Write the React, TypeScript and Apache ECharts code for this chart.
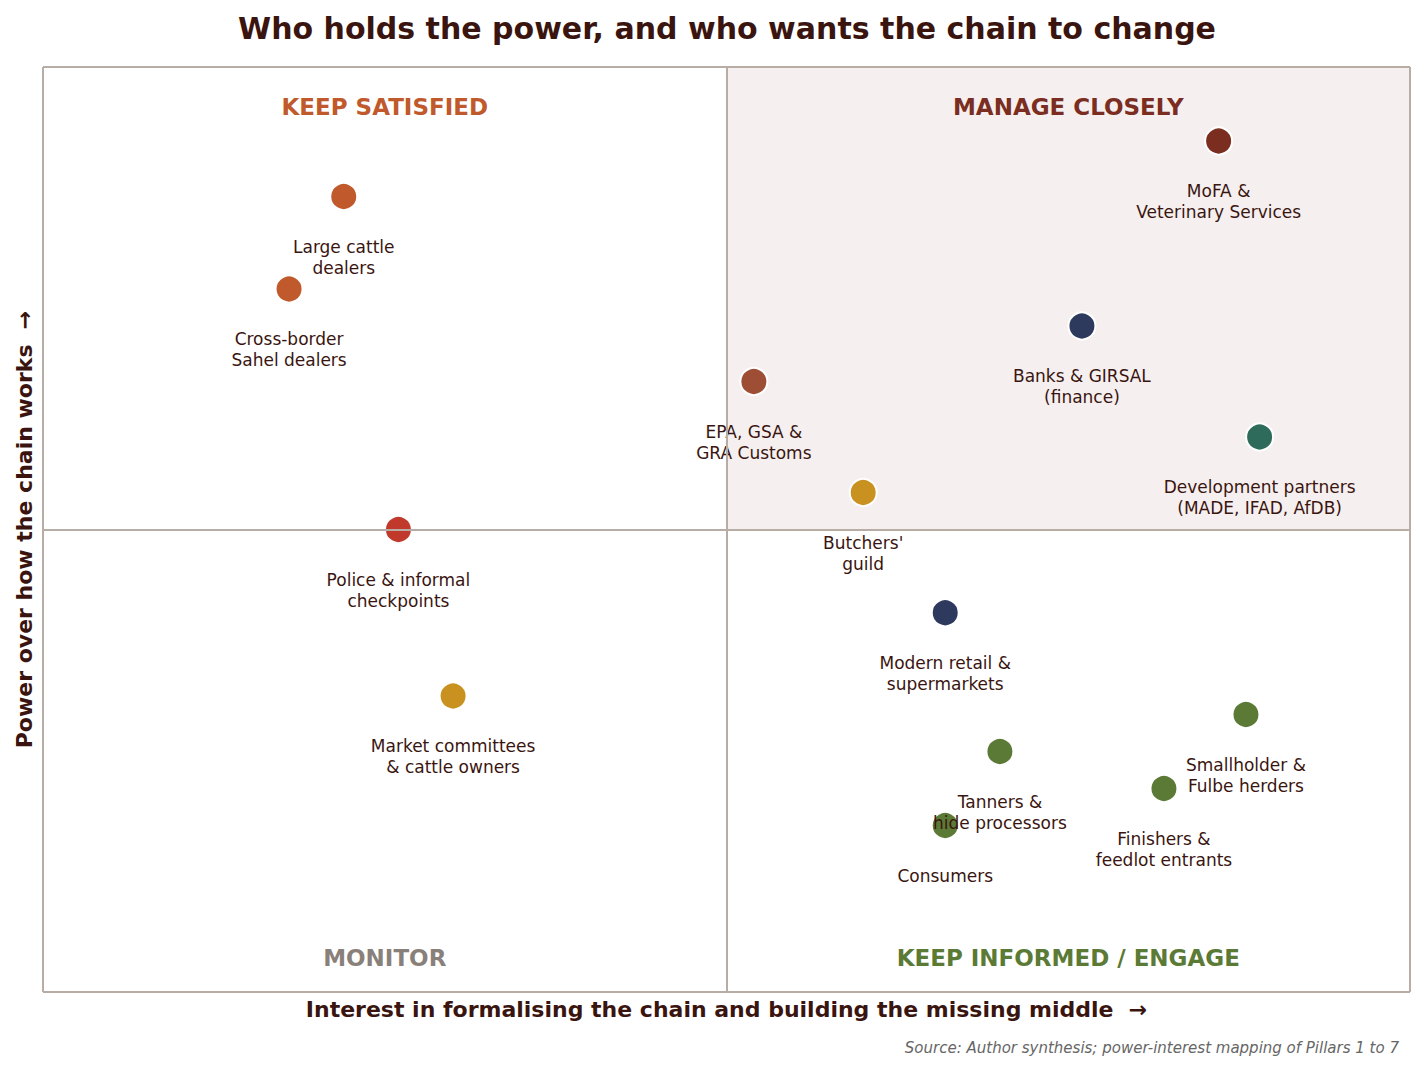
import React, { useEffect, useRef } from "react";
import * as echarts from "echarts";

// Stakeholders: interest (x, 0-10) vs power (y, 0-10)
const stakeholderNames = [
  "Large cattle\ndealers",
  "Cross-border\nSahel dealers",
  "Police & informal\ncheckpoints",
  "Market committees\n& cattle owners",
  "EPA, GSA &\nGRA Customs",
  "Butchers'\nguild",
  "MoFA &\nVeterinary Services",
  "Banks & GIRSAL\n(finance)",
  "Development partners\n(MADE, IFAD, AfDB)",
  "Modern retail &\nsupermarkets",
  "Smallholder &\nFulbe herders",
  "Tanners &\nhide processors",
  "Finishers &\nfeedlot entrants",
  "Consumers",
];
const interestScores = [2.2, 1.8, 2.6, 3.0, 5.2, 6.0, 8.6, 7.6, 8.9, 6.6, 8.8, 7.0, 8.2, 6.6];
const powerScores = [8.6, 7.6, 5.0, 3.2, 6.6, 5.4, 9.2, 7.2, 6.0, 4.1, 3.0, 2.6, 2.2, 1.8];
const stakeholderColors = [
  "#c05a2c", "#c05a2c", "#c0392b", "#c99220", "#9e4e35", "#c99220", "#7b2d20",
  "#2d3a5e", "#2e6b5a", "#2d3a5e", "#5b7a35", "#5b7a35", "#5b7a35", "#5b7a35",
];

// Quadrant headings
const quadrantNames = ["KEEP SATISFIED", "MANAGE CLOSELY", "MONITOR", "KEEP INFORMED / ENGAGE"];
const quadrantX = [2.5, 7.5, 2.5, 7.5];
const quadrantY = [9.57, 9.57, 0.37, 0.37];
const quadrantColors = ["#c0592b", "#7a2d20", "#8a807a", "#5b7a35"];

const FONT = "DejaVu Sans";
const LINE = "#b8ada5";
const INK = "#3a1510";

export default function App() {
  const ref = useRef<HTMLDivElement>(null);

  useEffect(() => {
    if (!ref.current) return;
    const chart = echarts.init(ref.current, undefined, { renderer: "svg" });

    const points = stakeholderNames.map((n, i) => ({
      name: n,
      value: [interestScores[i], powerScores[i]],
      itemStyle: { color: stakeholderColors[i] },
    }));
    const quads = quadrantNames.map((n, i) => ({
      name: n,
      value: [quadrantX[i], quadrantY[i]],
      label: { color: quadrantColors[i] },
    }));

    const frameLine = (v: any) => ({ ...v, lineStyle: { color: LINE, width: 2, type: "solid" } });

    chart.setOption({
      animation: false,
      textStyle: { fontFamily: FONT },
      grid: { left: 43, right: 15, top: 67, bottom: 75, show: false },
      xAxis: {
        type: "value",
        min: 0,
        max: 10,
        axisLine: { show: false },
        axisTick: { show: false },
        axisLabel: { show: false },
        splitLine: { show: false },
        name: "Interest in formalising the chain and building the missing middle  \u2192",
        nameLocation: "middle",
        nameGap: 6,
        nameTextStyle: { fontSize: 22, fontWeight: "bold", color: INK, fontFamily: FONT },
      },
      yAxis: {
        type: "value",
        min: 0,
        max: 10,
        axisLine: { show: false },
        axisTick: { show: false },
        axisLabel: { show: false },
        splitLine: { show: false },
        name: "Power over how the chain works  \u2192",
        nameLocation: "middle",
        nameRotate: 90,
        nameGap: 8,
        nameTextStyle: { fontSize: 22, fontWeight: "bold", color: INK, fontFamily: FONT },
      },
      graphic: [
        {
          type: "text",
          x: 727,
          y: 28,
          style: {
            text: "Who holds the power, and who wants the chain to change",
            textAlign: "center",
            textVerticalAlign: "middle",
            fontFamily: FONT,
            fontSize: 30,
            fontWeight: "bold",
            fill: INK,
          },
        },
        {
          type: "text",
          x: 1399,
          y: 1048,
          style: {
            text: "Source: Author synthesis; power-interest mapping of Pillars 1 to 7",
            textAlign: "right",
            textVerticalAlign: "middle",
            fontFamily: FONT,
            fontSize: 15,
            fontStyle: "italic",
            fill: "#666666",
          },
        },
      ],
      series: [
        {
          type: "scatter",
          z: 1,
          silent: true,
          symbolSize: 1,
          itemStyle: { color: "transparent", opacity: 1 },
          data: quads,
          label: {
            show: true,
            position: "inside",
            formatter: "{b}",
            fontFamily: FONT,
            fontSize: 23,
            fontWeight: "bold",
            opacity: 1,
          },
          markArea: {
            silent: true,
            itemStyle: { color: "#f5f0ef" },
            data: [[{ coord: [5, 5] }, { coord: [10, 10] }]],
          },
          markLine: {
            silent: true,
            symbol: "none",
            label: { show: false },
            data: [
              frameLine({ xAxis: 0 }),
              frameLine({ xAxis: 10 }),
              frameLine({ yAxis: 0 }),
              frameLine({ yAxis: 10 }),
              frameLine({ xAxis: 5 }),
              frameLine({ yAxis: 5 }),
            ],
          },
        },
        {
          type: "scatter",
          z: 3,
          symbolSize: 27,
          itemStyle: { borderColor: "#ffffff", borderWidth: 2, opacity: 1 },
          data: points,
          label: {
            show: true,
            position: "bottom",
            distance: 25,
            formatter: "{b}",
            align: "center",
            fontFamily: FONT,
            fontSize: 17,
            lineHeight: 21,
            color: INK,
          },
        },
      ],
    });

    return () => chart.dispose();
  }, []);

  return (
    <div
      ref={ref}
      style={{ position: "fixed", left: 0, top: 0, width: 1425, height: 1067, background: "#ffffff" }}
    />
  );
}
